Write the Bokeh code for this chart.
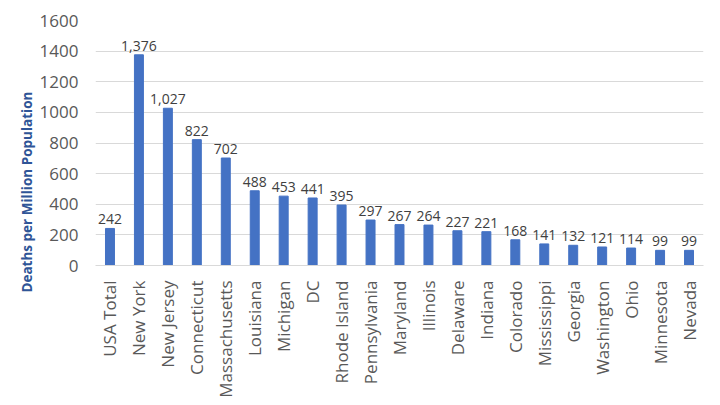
from bokeh.plotting import figure
from bokeh.models import ColumnDataSource, Range1d, Title, SingleIntervalTicker, LabelSet
from bokeh.core.properties import value
from bokeh.embed import file_html
from bokeh.resources import INLINE
import math

states = ["USA Total", "New York", "New Jersey", "Connecticut", "Massachusetts",
          "Louisiana", "Michigan", "DC", "Rhode Island", "Pennsylvania", "Maryland",
          "Illinois", "Delaware", "Indiana", "Colorado", "Mississippi", "Georgia",
          "Washington", "Ohio", "Minnesota", "Nevada"]
deaths = [242, 1376, 1027, 822, 702, 488, 453, 441, 395, 297, 267, 264, 227, 221,
          168, 141, 132, 121, 114, 99, 99]
labels = ["{:,}".format(v) for v in deaths]
y_title = "Deaths per Million Population"

src = ColumnDataSource(dict(x=states, y=deaths, lab=labels))

p = figure(frame_width=608, frame_height=245, x_range=states, y_range=Range1d(0, 1600),
           output_backend="svg", toolbar_location=None,
           min_border_left=95, min_border_right=14, min_border_top=20, min_border_bottom=134)
p.outline_line_color = None
p.background_fill_color = "white"

p.vbar(x="x", top="y", width=0.31, source=src, color="#4472C4")

ls = LabelSet(x="x", y="y", text="lab", source=src, text_align="center",
              text_baseline="bottom", y_offset=4, text_font=value("Open Sans"),
              text_font_size="14px", text_color="#404040")
p.add_layout(ls)

p.yaxis.ticker = SingleIntervalTicker(interval=200)
p.yaxis.axis_line_color = None
p.yaxis.major_tick_line_color = None
p.yaxis.minor_tick_line_color = None
p.yaxis.major_label_text_font = "Open Sans"
p.yaxis.major_label_text_font_size = "17px"
p.yaxis.major_label_text_color = "#595959"
p.yaxis.major_label_standoff = 11

p.xaxis.axis_line_color = "#D9D9D9"
p.xaxis.major_tick_line_color = None
p.xaxis.minor_tick_line_color = None
p.xaxis.major_label_orientation = math.pi / 2
p.xaxis.major_label_text_font = "Open Sans"
p.xaxis.major_label_text_font_size = "17px"
p.xaxis.major_label_text_color = "#595959"
p.xaxis.major_label_standoff = 9

p.xgrid.grid_line_color = None
p.ygrid.grid_line_color = "#D9D9D9"
p.ygrid.grid_line_width = 1

t = Title(text=y_title, align="left", offset=-27, standoff=1,
          text_font="Open Sans", text_font_size="13.5px", text_font_style="bold",
          text_color="#2F5597")
p.add_layout(t, "left")

open("out.html", "w").write(file_html(p, INLINE))
